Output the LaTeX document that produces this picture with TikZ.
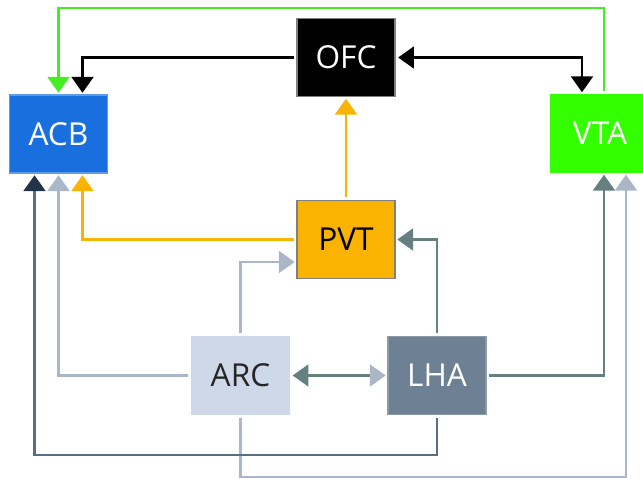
\documentclass[tikz,border=0pt]{standalone}
\usepackage{fontspec}
\setmainfont{Open Sans}
\usepackage{xcolor}
\usetikzlibrary{arrows.meta,positioning,calc}
\definecolor{acbblue}{HTML}{1A6FDE}
\definecolor{vtagreen}{HTML}{33FF00}
\definecolor{grnline}{HTML}{44EE22}
\definecolor{pvtorange}{HTML}{F9B300}
\definecolor{arcfill}{HTML}{CFD8E9}
\definecolor{arcline}{HTML}{A9B7C8}
\definecolor{lhafill}{HTML}{6E8094}
\definecolor{slate}{HTML}{66807F}
\definecolor{navyline}{HTML}{5A6E82}
\definecolor{navyhead}{HTML}{243448}

\begin{document}
\begin{tikzpicture}[
  x=0.02cm, y=-0.02cm,
  box/.style={minimum width=1.96cm, minimum height=1.56cm, inner sep=0pt,
    font=\fontsize{18}{20}\selectfont, line width=0.6pt},
  link/.style={line width=1.15pt, shorten <=1.5pt, shorten >=1pt},
  >={Triangle[width=12.5pt,length=9pt]}
]
  \useasboundingbox (0,0) rectangle (643,479);

  \foreach \name/\x/\y/\fc/\dc/\tc in {
    ACB/58.5/134/acbblue/acbblue!70!white/white,
    OFC/346/57.5/black/gray/white,
    VTA/600/133.5/vtagreen/vtagreen/white,
    PVT/346/239.5/pvtorange/gray/black,
    ARC/240.5/375.5/arcfill/arcfill/black!85,
    LHA/437/375.5/lhafill/lhafill!80!white/white} {
    \node[box, fill=\fc, draw=\dc, text=\tc] (\name) at (\x,\y) {\name};
  }

  \coordinate (topline) at (0,8);
  \coordinate (lowline) at (0,455);
  \coordinate (botline) at (0,477);
  \coordinate (acbN) at ($(ACB.north)+(24,0)$);
  \coordinate (acbL) at ($(ACB.south)+(-24,0)$);
  \coordinate (acbR) at ($(ACB.south)+(24,0)$);
  \coordinate (vtaN) at ($(VTA.north)+(-18,0)$);
  \coordinate (vtaG) at ($(VTA.north)+(4,0)$);
  \coordinate (vtaS) at ($(VTA.south)+(4,0)$);
  \coordinate (vtaR) at ($(VTA.south)+(26,0)$);
  \coordinate (pvtW) at ($(PVT.west)+(0,22.5)$);

  \draw[link, grnline, ->] (vtaG) |- (ACB.north |- topline) -- (ACB.north);
  \draw[link, black, ->] (OFC.west) -| (acbN);
  \draw[link, black, <->] (OFC.east) -| (vtaN);

  \draw[link, pvtorange, ->] (PVT.north) -- (OFC.south);
  \draw[link, pvtorange, ->] (PVT.west) -| (acbR);

  \draw[link, arcline, ->] (ARC.west) -| (ACB.south);
  \draw[link, arcline, ->] (ARC.north) |- (pvtW);
  \draw[link, arcline, ->] (ARC.south) |- (vtaR |- botline) -- (vtaR);

  \draw[link, slate, {Triangle[width=12.5pt,length=9pt]}-{Triangle[width=12.5pt,length=9pt,color=arcline]}]
    (ARC.east) -- (LHA.west);
  \draw[link, slate, ->] (LHA.north) |- (PVT.east);
  \draw[link, slate, ->] (LHA.east) -| (vtaS);
  \draw[link, navyline, -{Triangle[width=12.5pt,length=9pt,color=navyhead]}]
    (LHA.south) |- (acbL |- lowline) -- (acbL);
\end{tikzpicture}
\end{document}
